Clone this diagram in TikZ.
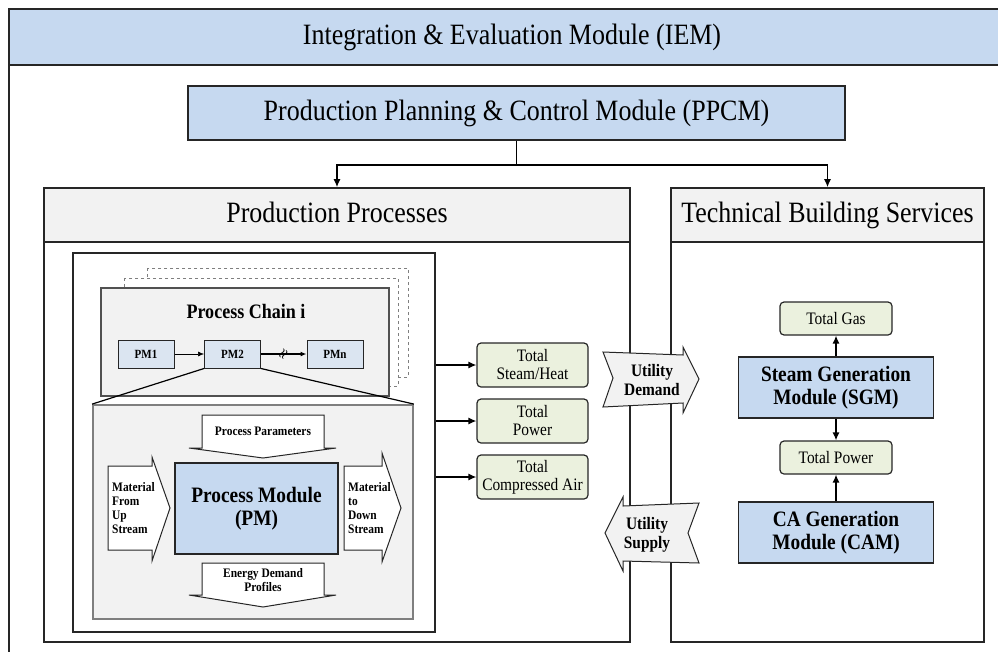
\documentclass[tikz,border=0pt]{standalone}
\usepackage{fontspec}
\setmainfont[FakeStretch=0.88]{Liberation Serif}
\usetikzlibrary{positioning,calc,arrows.meta}

\definecolor{boxblue}{HTML}{C6D9F0}
\definecolor{pmblue}{HTML}{DBE5F1}
\definecolor{headgray}{HTML}{F2F2F2}
\definecolor{totalgreen}{HTML}{EBF1DE}
\definecolor{linedark}{HTML}{262626}
\definecolor{linegray}{HTML}{7F7F7F}

\tikzset{
  boxline/.style={draw=linedark, line width=1.6pt},
  headline/.style={boxline, fill=headgray, inner sep=0pt, text height=20pt, text depth=6pt,
    font=\fontsize{29.5}{34}\selectfont},
  module/.style={boxline, fill=boxblue, inner sep=0pt, align=center,
    font=\bfseries\fontsize{22}{23}\selectfont},
  total/.style={draw=linedark, line width=1.2pt, fill=totalgreen, rounded corners=4pt,
    inner sep=0pt, minimum height=44pt, minimum width=111pt, align=center,
    font=\fontsize{17.5}{18}\selectfont},
  pmsmall/.style={draw=linedark, line width=1pt, fill=pmblue, inner sep=0pt,
    minimum width=56pt, minimum height=28pt, font=\bfseries\fontsize{12.5}{13}\selectfont},
  flowarrow/.style={draw=linedark, line width=1pt, fill=white},
  flowtext/.style={inner sep=0pt, align=left, font=\bfseries\fontsize{13}{14}\selectfont},
  utility/.style={draw=linedark, line width=1pt, fill=headgray},
  link/.style={->, line width=1.3pt, draw=black},
}

\begin{document}
\begin{tikzpicture}[x=1pt, y=-1pt, >={Latex[length=8pt,width=7pt]}]
    \clip (0,0) rectangle (998,651);

    % IEM frame
    \draw [boxline, fill=boxblue] (9,9) rectangle (1010,65);
    \draw [boxline] (9,65) -- (9,660);
    \node [font=\fontsize{29.5}{34}\selectfont] (iem) at (512,37) {Integration \& Evaluation Module (IEM)};

    % PPCM
    \node [module, font=\fontsize{29.5}{34}\selectfont, minimum width=657pt, minimum height=54pt] (ppcm) at (516.5,113) {Production Planning \& Control Module (PPCM)};

    % Production Processes and Technical Building Services
    \node [boxline, minimum width=586pt, minimum height=454pt, inner sep=0pt] (prod) at (337,415) {};
    \node [headline, minimum width=586pt, minimum height=54pt, anchor=north] (prodhead) at (prod.north) {Production Processes};
    \node [boxline, minimum width=313pt, minimum height=454pt, inner sep=0pt] (tbs) at (827.5,415) {};
    \node [headline, minimum width=313pt, minimum height=54pt, anchor=north] (tbshead) at (tbs.north) {Technical Building Services};

    \coordinate (split) at (516.5,165);
    \draw [line width=1.3pt] (ppcm.south) -- (split);
    \draw [link] (split) -| (prodhead.north);
    \draw [link] (split) -| (tbshead.north);

    % Process chains
    \node [draw=linedark, line width=1.2pt, fill=white, minimum width=362pt, minimum height=379pt, inner sep=0pt] (chainarea) at (254,442.5) {};
    \draw [dashed, draw=linegray, line width=0.8pt, fill=white] (147,268) rectangle (408,377);
    \draw [dashed, draw=linegray, line width=0.8pt, fill=white] (124,278) rectangle (398,386);
    \node [draw=linedark!80, line width=1.2pt, fill=headgray, minimum width=288pt, minimum height=108pt, inner sep=0pt] (chain) at (245,342) {};
    \node [font=\bfseries\fontsize{20.5}{22}\selectfont] (chaintitle) at (246,311) {Process Chain i};

    \node [pmsmall] (pm1) at (146,354) {PM1};
    \node [pmsmall] (pm2) at (232.5,354) {PM2};
    \node [pmsmall] (pmn) at (335,354) {PMn};
    \draw [->, >={Latex[length=6pt,width=5pt]}, line width=0.6pt] (pm1) -- (pm2);
    \draw [->, >={Latex[length=6pt,width=5pt]}, line width=1.2pt] (pm2) -- node [rotate=60, inner sep=0pt, font=\boldmath\fontsize{12}{12}\selectfont] (gap) {$\approx$} (pmn);

    % Zoom into PM2
    \node [draw=linegray, line width=1.8pt, fill=headgray, minimum width=320pt, minimum height=214pt, inner sep=0pt] (pmdetail) at (253,512) {};
    \draw [line width=1.2pt] (pm2.south west) -- (pmdetail.north west);
    \draw [line width=1.2pt] (pm2.south east) -- (pmdetail.north east);

    % Inputs and outputs of the PM
    \draw [flowarrow] (202,415) -- (324,415) -- (324,448) -- (336,448) -- (263,458) -- (189,448) -- (202,448) -- cycle;
    \node [flowtext, align=center] (params) at (263,431) {Process Parameters};
    \draw [flowarrow] (202,563) -- (324,563) -- (324,595) -- (336,595) -- (263,607) -- (189,595) -- (202,595) -- cycle;
    \node [flowtext, align=center] (energy) at (263,580) {Energy Demand\\Profiles};
    \draw [flowarrow] (108,466) -- (152,466) -- (152,457) -- (170,508) -- (152,561) -- (152,550) -- (108,550) -- cycle;
    \node [flowtext, anchor=west] (matin) at (112,508) {Material\\From\\Up\\Stream};
    \draw [flowarrow] (344,466) -- (382,466) -- (382,453) -- (401,508) -- (382,562) -- (382,550) -- (344,550) -- cycle;
    \node [flowtext, anchor=west] (matout) at (348,508) {Material\\to\\Down\\Stream};
    \node [module, minimum width=163pt, minimum height=91pt] (pm) at (256.5,508.5) {Process Module\\(PM)};

    % Totals of the production side
    \node [total] (steam) at (532.5,365) {Total\\Steam/Heat};
    \node [total] (power) at (532.5,421) {Total\\Power};
    \node [total] (air) at (532.5,477) {Total\\Compressed Air};
    \draw [link] (chainarea.east |- steam.west) -- (steam.west);
    \draw [link] (chainarea.east |- power.west) -- (power.west);
    \draw [link] (chainarea.east |- air.west) -- (air.west);

    % Utility demand and supply
    \draw [utility] (603,352) -- (683,355) -- (683,347) -- (699,379) -- (683,413) -- (683,403) -- (603,407) -- (613,378) -- cycle;
    \node [flowtext, align=center, font=\bfseries\fontsize{17.5}{19}\selectfont] (demand) at (652,380) {Utility\\Demand};
    \draw [utility] (605,533) -- (623,497) -- (623,506) -- (699,503) -- (688,533) -- (699,563) -- (623,561) -- (623,571) -- cycle;
    \node [flowtext, align=center, font=\bfseries\fontsize{17.5}{19}\selectfont] (supply) at (647,535) {Utility\\Supply};

    % Generation modules
    \node [total, minimum width=112pt, minimum height=33pt] (gas) at (836,318.5) {Total Gas};
    \node [module, minimum width=195pt, minimum height=61pt] (sgm) at (836,387.5) {Steam Generation\\Module (SGM)};
    \node [total, minimum width=112pt, minimum height=33pt] (tpower) at (836,457.5) {Total Power};
    \node [module, minimum width=195pt, minimum height=61pt] (cam) at (836,532.5) {CA Generation\\Module (CAM)};
    \draw [link] (sgm) -- (gas);
    \draw [link] (sgm) -- (tpower);
    \draw [link] (cam) -- (tpower);
\end{tikzpicture}
\end{document}
